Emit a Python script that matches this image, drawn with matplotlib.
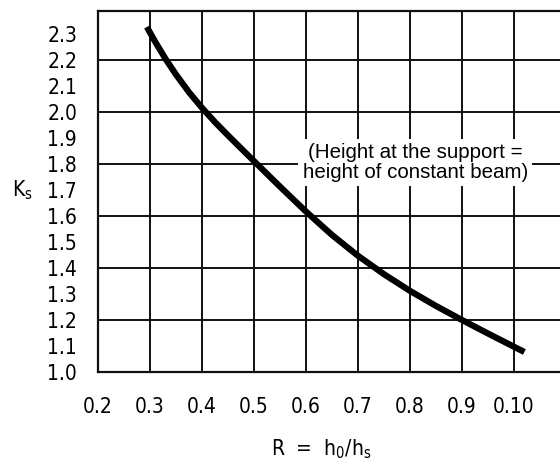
import matplotlib
matplotlib.use("Agg")
import matplotlib.pyplot as plt

# values
r_vals = [0.294, 0.31, 0.33, 0.35, 0.375, 0.4, 0.425, 0.45, 0.5, 0.55, 0.6, 0.65,
          0.7, 0.75, 0.8, 0.85, 0.9, 0.95, 1.0, 1.02]
k_vals = [2.327, 2.270, 2.204, 2.144, 2.076, 2.016, 1.961, 1.910, 1.811, 1.713, 1.617, 1.527,
          1.447, 1.376, 1.312, 1.254, 1.200, 1.148, 1.097, 1.077]

x_ticks = [0.2, 0.3, 0.4, 0.5, 0.6, 0.7, 0.8, 0.9, 1.0]
x_labels = ["0.2", "0.3", "0.4", "0.5", "0.6", "0.7", "0.8", "0.9", "0.10"]
y_ticks = [1.0, 1.1, 1.2, 1.3, 1.4, 1.5, 1.6, 1.7, 1.8, 1.9, 2.0, 2.1, 2.2, 2.3]
x_grid = [0.3, 0.4, 0.5, 0.6, 0.7, 0.8, 0.9, 1.0]
y_grid = [1.2, 1.4, 1.6, 1.8, 2.0, 2.2]

note = "(Height at the support =\nheight of constant beam)"

plt.rcParams['font.family'] = ['DejaVu Sans']
plt.rcParams['font.stretch'] = 'condensed'
plt.rcParams['mathtext.fontset'] = 'dejavusans'

fig = plt.figure(figsize=(5.6, 4.63), dpi=100)
ax = fig.add_axes([98 / 560, (463 - 372) / 463, 1 - 98 / 560, (372 - 11) / 463])

ax.set_xlim(0.2, 0.2 + (560 - 98) / 520)
ax.set_ylim(1.0, 1.0 + (372 - 11) / 260)

for gx in x_grid:
    ax.axvline(gx, color='#111111', lw=1.4, zorder=1)
for gy in y_grid:
    ax.axhline(gy, color='#111111', lw=1.4, zorder=1)

ax.plot(r_vals, k_vals, color='black', lw=4.5, solid_capstyle='butt',
        solid_joinstyle='round', zorder=3)

ax.text(0.81, 1.805, note, ha='center', va='center', fontsize=14.8,
        family=['Liberation Sans', 'DejaVu Sans'], fontstretch='normal',
        linespacing=1.05,
        bbox=dict(facecolor='white', edgecolor='none', pad=3), zorder=4)

ax.set_xticks(x_ticks)
ax.set_xticklabels(x_labels)
ax.set_yticks(y_ticks)
ax.set_yticklabels(["%.1f" % v for v in y_ticks])
ax.tick_params(length=0, labelsize=15)
ax.tick_params(axis='x', pad=18)
ax.tick_params(axis='y', pad=15)

for s in ['left', 'top', 'bottom']:
    ax.spines[s].set_linewidth(1.6)
    ax.spines[s].set_color('#111111')
ax.spines['right'].set_visible(False)

fig.text(22 / 560, 1 - 190 / 463, r'K$_\mathrm{s}$', fontsize=15, ha='center', va='center')
fig.text(321 / 560, 1 - 449 / 463, r'R  =  h$_\mathrm{0}$/h$_\mathrm{s}$', fontsize=15,
         ha='center', va='center')

fig.savefig('out.png', dpi=100)
